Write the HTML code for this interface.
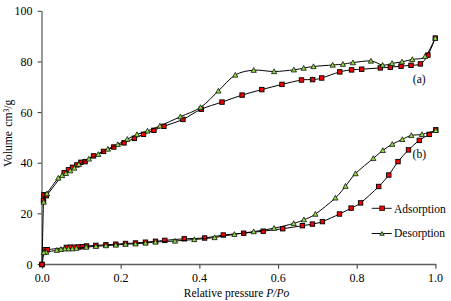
<!DOCTYPE html>
<html><head><meta charset="utf-8"><style>
html,body{margin:0;padding:0;background:#fff;width:451px;height:301px;overflow:hidden}
svg{display:block}
text{font-family:"Liberation Serif",serif;font-size:12px;fill:#000}
</style></head><body>
<svg width="451" height="301" viewBox="0 0 451 301">
<rect width="451" height="301" fill="#fff"/>
<line x1="42" y1="10.90" x2="42" y2="264.50" stroke="#878787" stroke-width="1.7"/>
<line x1="41.2" y1="264.50" x2="436.40" y2="264.50" stroke="#5e5e5e" stroke-width="1.3"/>
<line x1="37.6" y1="264.50" x2="41.5" y2="264.50" stroke="#333" stroke-width="1"/>
<line x1="37.6" y1="213.86" x2="41.5" y2="213.86" stroke="#333" stroke-width="1"/>
<line x1="37.6" y1="163.22" x2="41.5" y2="163.22" stroke="#333" stroke-width="1"/>
<line x1="37.6" y1="112.58" x2="41.5" y2="112.58" stroke="#333" stroke-width="1"/>
<line x1="37.6" y1="61.94" x2="41.5" y2="61.94" stroke="#333" stroke-width="1"/>
<line x1="37.6" y1="11.30" x2="41.5" y2="11.30" stroke="#333" stroke-width="1"/>
<line x1="42.50" y1="264.50" x2="42.50" y2="268.80" stroke="#444" stroke-width="1.1"/>
<line x1="121.18" y1="264.50" x2="121.18" y2="268.80" stroke="#444" stroke-width="1.1"/>
<line x1="199.86" y1="264.50" x2="199.86" y2="268.80" stroke="#444" stroke-width="1.1"/>
<line x1="278.54" y1="264.50" x2="278.54" y2="268.80" stroke="#444" stroke-width="1.1"/>
<line x1="357.22" y1="264.50" x2="357.22" y2="268.80" stroke="#444" stroke-width="1.1"/>
<line x1="435.90" y1="264.50" x2="435.90" y2="268.80" stroke="#444" stroke-width="1.1"/>
<text x="32.6" y="268.50" text-anchor="end">0</text>
<text x="32.6" y="217.86" text-anchor="end">20</text>
<text x="32.6" y="167.22" text-anchor="end">40</text>
<text x="32.6" y="116.58" text-anchor="end">60</text>
<text x="32.6" y="65.94" text-anchor="end">80</text>
<text x="32.6" y="15.30" text-anchor="end">100</text>
<text x="42.20" y="282.2" text-anchor="middle">0.0</text>
<text x="120.88" y="282.2" text-anchor="middle">0.2</text>
<text x="199.56" y="282.2" text-anchor="middle">0.4</text>
<text x="278.24" y="282.2" text-anchor="middle">0.6</text>
<text x="356.92" y="282.2" text-anchor="middle">0.8</text>
<text x="435.60" y="282.2" text-anchor="middle">1.0</text>
<text x="183.8" y="297" style="font-size:11.5px">Relative pressure <tspan font-style="italic">P/Po</tspan></text>
<text transform="translate(12.2,167.0) rotate(-90)" style="font-size:11.6px;word-spacing:1.5px">Volume cm<tspan dy="-3" style="font-size:7.5px">3</tspan><tspan dy="3">/g</tspan></text>
<text x="412.8" y="82.7" style="font-size:11.6px">(a)</text>
<text x="412.6" y="158.2" style="font-size:11.6px">(b)</text>
<path d="M42.00 264.50 C42.25 253.82 43.18 212.02 43.50 200.40 C43.82 188.78 43.42 195.60 43.90 194.80 C44.38 194.00 43.02 199.28 46.40 195.60 C49.78 191.92 60.52 177.00 64.20 172.70 C67.88 168.40 67.12 170.70 68.50 169.80 C69.88 168.90 71.10 168.12 72.50 167.30 C73.90 166.48 75.50 165.73 76.90 164.90 C78.30 164.07 79.53 162.85 80.90 162.30 C82.27 161.75 83.00 162.67 85.10 161.60 C87.20 160.53 90.43 157.60 93.50 155.90 C96.57 154.20 100.12 152.88 103.50 151.40 C106.88 149.92 110.38 148.42 113.80 147.00 C117.22 145.58 120.57 144.35 124.00 142.90 C127.43 141.45 131.15 139.73 134.40 138.30 C137.65 136.87 140.25 135.63 143.50 134.30 C146.75 132.97 150.50 131.63 153.90 130.30 C157.30 128.97 159.07 128.12 163.90 126.30 C168.73 124.48 176.68 122.25 182.90 119.40 C189.12 116.55 194.68 112.08 201.20 109.20 C207.72 106.32 215.18 104.45 222.00 102.10 C228.82 99.75 235.47 97.18 242.10 95.10 C248.73 93.02 255.15 91.38 261.80 89.60 C268.45 87.82 275.38 86.00 282.00 84.40 C288.62 82.80 296.40 80.80 301.50 80.00 C306.60 79.20 309.23 79.93 312.60 79.60 C315.97 79.27 317.17 79.28 321.70 78.00 C326.23 76.72 334.82 73.25 339.80 71.90 C344.78 70.55 347.95 70.35 351.60 69.90 C355.25 69.45 356.92 69.53 361.70 69.20 C366.48 68.87 375.53 68.23 380.30 67.90 C385.07 67.57 386.85 67.48 390.30 67.20 C393.75 66.92 397.55 66.52 401.00 66.20 C404.45 65.88 407.77 65.68 411.00 65.30 C414.23 64.92 417.58 65.60 420.40 63.90 C423.22 62.20 425.42 59.40 427.90 55.10 C430.38 50.80 434.07 40.93 435.30 38.10" fill="none" stroke="#000" stroke-width="1.0"/>
<g fill="#ff0000" stroke="#000" stroke-width="0.95"><rect x="39.80" y="262.30" width="4.4" height="4.4"/><rect x="41.30" y="198.20" width="4.4" height="4.4"/><rect x="41.70" y="192.60" width="4.4" height="4.4"/><rect x="44.20" y="193.40" width="4.4" height="4.4"/><rect x="62.00" y="170.50" width="4.4" height="4.4"/><rect x="66.30" y="167.60" width="4.4" height="4.4"/><rect x="70.30" y="165.10" width="4.4" height="4.4"/><rect x="74.70" y="162.70" width="4.4" height="4.4"/><rect x="78.70" y="160.10" width="4.4" height="4.4"/><rect x="82.90" y="159.40" width="4.4" height="4.4"/><rect x="91.30" y="153.70" width="4.4" height="4.4"/><rect x="101.30" y="149.20" width="4.4" height="4.4"/><rect x="111.60" y="144.80" width="4.4" height="4.4"/><rect x="121.80" y="140.70" width="4.4" height="4.4"/><rect x="132.20" y="136.10" width="4.4" height="4.4"/><rect x="141.30" y="132.10" width="4.4" height="4.4"/><rect x="151.70" y="128.10" width="4.4" height="4.4"/><rect x="161.70" y="124.10" width="4.4" height="4.4"/><rect x="180.70" y="117.20" width="4.4" height="4.4"/><rect x="199.00" y="107.00" width="4.4" height="4.4"/><rect x="219.80" y="99.90" width="4.4" height="4.4"/><rect x="239.90" y="92.90" width="4.4" height="4.4"/><rect x="259.60" y="87.40" width="4.4" height="4.4"/><rect x="279.80" y="82.20" width="4.4" height="4.4"/><rect x="299.30" y="77.80" width="4.4" height="4.4"/><rect x="310.40" y="77.40" width="4.4" height="4.4"/><rect x="319.50" y="75.80" width="4.4" height="4.4"/><rect x="337.60" y="69.70" width="4.4" height="4.4"/><rect x="349.40" y="67.70" width="4.4" height="4.4"/><rect x="359.50" y="67.00" width="4.4" height="4.4"/><rect x="378.10" y="65.70" width="4.4" height="4.4"/><rect x="388.10" y="65.00" width="4.4" height="4.4"/><rect x="398.80" y="64.00" width="4.4" height="4.4"/><rect x="408.80" y="63.10" width="4.4" height="4.4"/><rect x="418.20" y="61.70" width="4.4" height="4.4"/><rect x="425.70" y="52.90" width="4.4" height="4.4"/><rect x="433.10" y="35.90" width="4.4" height="4.4"/></g>
<path d="M435.30 38.10 C433.60 41.15 428.93 52.85 425.10 56.40 C421.27 59.95 416.15 58.50 412.30 59.40 C408.45 60.30 405.37 61.13 402.00 61.80 C398.63 62.47 395.33 62.85 392.10 63.40 C388.87 63.95 386.13 65.50 382.60 65.10 C379.07 64.70 375.85 61.42 370.90 61.00 C365.95 60.58 357.57 62.07 352.90 62.60 C348.23 63.13 346.27 63.80 342.90 64.20 C339.53 64.60 337.60 64.62 332.70 65.00 C327.80 65.38 318.33 65.98 313.50 66.50 C308.67 67.02 306.97 67.55 303.70 68.10 C300.43 68.65 298.83 69.23 293.90 69.80 C288.97 70.37 280.80 71.43 274.10 71.50 C267.40 71.57 260.17 69.62 253.70 70.20 C247.23 70.78 241.18 71.55 235.30 75.00 C229.42 78.45 224.18 85.50 218.40 90.90 C212.62 96.30 206.93 103.10 200.60 107.40 C194.27 111.70 187.18 113.62 180.40 116.70 C173.62 119.78 165.38 123.53 159.90 125.90 C154.42 128.27 151.32 129.47 147.50 130.90 C143.68 132.33 140.37 133.12 137.00 134.50 C133.63 135.88 130.50 137.55 127.30 139.20 C124.10 140.85 121.03 142.77 117.80 144.40 C114.57 146.03 111.15 147.35 107.90 149.00 C104.65 150.65 101.47 152.65 98.30 154.30 C95.13 155.95 92.13 157.23 88.90 158.90 C85.67 160.57 81.33 162.78 78.90 164.30 C76.47 165.82 75.73 166.93 74.30 168.00 C72.87 169.07 71.70 169.82 70.30 170.70 C68.90 171.58 67.25 172.50 65.90 173.30 C64.55 174.10 63.47 174.72 62.20 175.50 C60.93 176.28 60.83 174.98 58.30 178.00 C55.77 181.02 49.43 189.60 47.00 193.60 C44.57 197.60 44.25 200.60 43.70 202.00" fill="none" stroke="#000" stroke-width="1.0"/>
<g fill="#8fdc40" stroke="#111" stroke-width="0.8"><path d="M435.30 35.46L437.90 40.26L432.70 40.26Z"/><path d="M425.10 53.76L427.70 58.56L422.50 58.56Z"/><path d="M412.30 56.76L414.90 61.56L409.70 61.56Z"/><path d="M402.00 59.16L404.60 63.96L399.40 63.96Z"/><path d="M392.10 60.76L394.70 65.56L389.50 65.56Z"/><path d="M382.60 62.46L385.20 67.26L380.00 67.26Z"/><path d="M370.90 58.36L373.50 63.16L368.30 63.16Z"/><path d="M352.90 59.96L355.50 64.76L350.30 64.76Z"/><path d="M342.90 61.56L345.50 66.36L340.30 66.36Z"/><path d="M332.70 62.36L335.30 67.16L330.10 67.16Z"/><path d="M313.50 63.86L316.10 68.66L310.90 68.66Z"/><path d="M303.70 65.46L306.30 70.26L301.10 70.26Z"/><path d="M293.90 67.16L296.50 71.96L291.30 71.96Z"/><path d="M274.10 68.86L276.70 73.66L271.50 73.66Z"/><path d="M253.70 67.56L256.30 72.36L251.10 72.36Z"/><path d="M235.30 72.36L237.90 77.16L232.70 77.16Z"/><path d="M218.40 88.26L221.00 93.06L215.80 93.06Z"/><path d="M200.60 104.76L203.20 109.56L198.00 109.56Z"/><path d="M180.40 114.06L183.00 118.86L177.80 118.86Z"/><path d="M159.90 123.26L162.50 128.06L157.30 128.06Z"/><path d="M147.50 128.26L150.10 133.06L144.90 133.06Z"/><path d="M137.00 131.86L139.60 136.66L134.40 136.66Z"/><path d="M127.30 136.56L129.90 141.36L124.70 141.36Z"/><path d="M117.80 141.76L120.40 146.56L115.20 146.56Z"/><path d="M107.90 146.36L110.50 151.16L105.30 151.16Z"/><path d="M98.30 151.66L100.90 156.46L95.70 156.46Z"/><path d="M88.90 156.26L91.50 161.06L86.30 161.06Z"/><path d="M78.90 161.66L81.50 166.46L76.30 166.46Z"/><path d="M74.30 165.36L76.90 170.16L71.70 170.16Z"/><path d="M70.30 168.06L72.90 172.86L67.70 172.86Z"/><path d="M65.90 170.66L68.50 175.46L63.30 175.46Z"/><path d="M62.20 172.86L64.80 177.66L59.60 177.66Z"/><path d="M58.30 175.36L60.90 180.16L55.70 180.16Z"/><path d="M47.00 190.96L49.60 195.76L44.40 195.76Z"/><path d="M43.70 199.36L46.30 204.16L41.10 204.16Z"/></g>
<path d="M42.00 264.50 C42.43 262.05 43.73 252.27 44.60 249.80 C45.47 247.33 43.57 250.10 47.20 249.70 C50.83 249.30 62.55 247.82 66.40 247.40 C70.25 246.98 69.00 247.23 70.30 247.20 C71.60 247.17 72.85 247.23 74.20 247.20 C75.55 247.17 77.05 247.08 78.40 247.00 C79.75 246.92 80.93 246.87 82.30 246.70 C83.67 246.53 84.33 246.22 86.60 246.00 C88.87 245.78 92.68 245.60 95.90 245.40 C99.12 245.20 102.58 245.00 105.90 244.80 C109.22 244.60 112.53 244.42 115.80 244.20 C119.07 243.98 122.22 243.70 125.50 243.50 C128.78 243.30 132.17 243.22 135.50 243.00 C138.83 242.78 142.17 242.48 145.50 242.20 C148.83 241.92 152.28 241.60 155.50 241.30 C158.72 241.00 160.00 240.82 164.80 240.40 C169.60 239.98 177.67 239.20 184.30 238.80 C190.93 238.40 198.10 238.63 204.60 238.00 C211.10 237.37 216.78 235.80 223.30 235.00 C229.82 234.20 237.05 233.83 243.70 233.20 C250.35 232.57 256.70 231.95 263.20 231.20 C269.70 230.45 276.17 229.62 282.70 228.70 C289.23 227.78 297.45 226.47 302.40 225.70 C307.35 224.93 309.07 224.78 312.40 224.10 C315.73 223.42 317.88 223.28 322.40 221.60 C326.92 219.92 334.72 216.25 339.50 214.00 C344.28 211.75 347.58 209.95 351.10 208.10 C354.62 206.25 356.00 206.50 360.60 202.90 C365.20 199.30 374.00 191.15 378.70 186.50 C383.40 181.85 385.58 179.15 388.80 175.00 C392.02 170.85 394.72 165.78 398.00 161.60 C401.28 157.42 404.95 153.43 408.50 149.90 C412.05 146.37 415.85 142.98 419.30 140.40 C422.75 137.82 426.45 136.17 429.20 134.40 C431.95 132.63 434.70 130.57 435.80 129.80" fill="none" stroke="#000" stroke-width="1.0"/>
<g fill="#ff0000" stroke="#000" stroke-width="0.95"><rect x="39.80" y="262.30" width="4.4" height="4.4"/><rect x="42.40" y="247.60" width="4.4" height="4.4"/><rect x="45.00" y="247.50" width="4.4" height="4.4"/><rect x="64.20" y="245.20" width="4.4" height="4.4"/><rect x="68.10" y="245.00" width="4.4" height="4.4"/><rect x="72.00" y="245.00" width="4.4" height="4.4"/><rect x="76.20" y="244.80" width="4.4" height="4.4"/><rect x="80.10" y="244.50" width="4.4" height="4.4"/><rect x="84.40" y="243.80" width="4.4" height="4.4"/><rect x="93.70" y="243.20" width="4.4" height="4.4"/><rect x="103.70" y="242.60" width="4.4" height="4.4"/><rect x="113.60" y="242.00" width="4.4" height="4.4"/><rect x="123.30" y="241.30" width="4.4" height="4.4"/><rect x="133.30" y="240.80" width="4.4" height="4.4"/><rect x="143.30" y="240.00" width="4.4" height="4.4"/><rect x="153.30" y="239.10" width="4.4" height="4.4"/><rect x="162.60" y="238.20" width="4.4" height="4.4"/><rect x="182.10" y="236.60" width="4.4" height="4.4"/><rect x="202.40" y="235.80" width="4.4" height="4.4"/><rect x="221.10" y="232.80" width="4.4" height="4.4"/><rect x="241.50" y="231.00" width="4.4" height="4.4"/><rect x="261.00" y="229.00" width="4.4" height="4.4"/><rect x="280.50" y="226.50" width="4.4" height="4.4"/><rect x="300.20" y="223.50" width="4.4" height="4.4"/><rect x="310.20" y="221.90" width="4.4" height="4.4"/><rect x="320.20" y="219.40" width="4.4" height="4.4"/><rect x="337.30" y="211.80" width="4.4" height="4.4"/><rect x="348.90" y="205.90" width="4.4" height="4.4"/><rect x="358.40" y="200.70" width="4.4" height="4.4"/><rect x="376.50" y="184.30" width="4.4" height="4.4"/><rect x="386.60" y="172.80" width="4.4" height="4.4"/><rect x="395.80" y="159.40" width="4.4" height="4.4"/><rect x="406.30" y="147.70" width="4.4" height="4.4"/><rect x="417.10" y="138.20" width="4.4" height="4.4"/><rect x="427.00" y="132.20" width="4.4" height="4.4"/><rect x="433.60" y="127.60" width="4.4" height="4.4"/></g>
<path d="M435.80 130.40 C433.48 131.07 425.98 133.57 421.90 134.40 C417.82 135.23 414.57 134.57 411.30 135.40 C408.03 136.23 405.47 137.93 402.30 139.40 C399.13 140.87 395.55 142.37 392.30 144.20 C389.05 146.03 385.97 148.03 382.80 150.40 C379.63 152.77 377.85 154.53 373.30 158.40 C368.75 162.27 360.13 168.97 355.50 173.60 C350.87 178.23 348.85 182.15 345.50 186.20 C342.15 190.25 340.42 193.25 335.40 197.90 C330.38 202.55 320.65 210.47 315.40 214.10 C310.15 217.73 307.52 218.15 303.90 219.70 C300.28 221.25 298.67 221.98 293.70 223.40 C288.73 224.82 280.77 226.83 274.10 228.20 C267.43 229.57 260.32 230.58 253.70 231.60 C247.08 232.62 240.92 233.32 234.40 234.30 C227.88 235.28 221.28 236.63 214.60 237.50 C207.92 238.37 200.90 238.92 194.30 239.50 C187.70 240.08 181.47 240.58 175.00 241.00 C168.53 241.42 160.42 241.67 155.50 242.00 C150.58 242.33 148.83 242.70 145.50 243.00 C142.17 243.30 138.83 243.60 135.50 243.80 C132.17 244.00 128.78 244.00 125.50 244.20 C122.22 244.40 119.07 244.77 115.80 245.00 C112.53 245.23 109.22 245.38 105.90 245.60 C102.58 245.82 99.17 246.05 95.90 246.30 C92.63 246.55 89.57 246.78 86.30 247.10 C83.03 247.42 78.62 247.93 76.30 248.20 C73.98 248.47 73.72 248.62 72.40 248.70 C71.08 248.78 69.67 248.68 68.40 248.70 C67.13 248.72 66.05 248.70 64.80 248.80 C63.55 248.90 62.23 249.07 60.90 249.30 C59.57 249.53 59.25 249.73 56.80 250.20 C54.35 250.67 48.37 251.72 46.20 252.10 C44.03 252.48 44.20 252.43 43.80 252.50" fill="none" stroke="#000" stroke-width="1.0"/>
<g fill="#8fdc40" stroke="#111" stroke-width="0.8"><path d="M435.80 127.76L438.40 132.56L433.20 132.56Z"/><path d="M421.90 131.76L424.50 136.56L419.30 136.56Z"/><path d="M411.30 132.76L413.90 137.56L408.70 137.56Z"/><path d="M402.30 136.76L404.90 141.56L399.70 141.56Z"/><path d="M392.30 141.56L394.90 146.36L389.70 146.36Z"/><path d="M382.80 147.76L385.40 152.56L380.20 152.56Z"/><path d="M373.30 155.76L375.90 160.56L370.70 160.56Z"/><path d="M355.50 170.96L358.10 175.76L352.90 175.76Z"/><path d="M345.50 183.56L348.10 188.36L342.90 188.36Z"/><path d="M335.40 195.26L338.00 200.06L332.80 200.06Z"/><path d="M315.40 211.46L318.00 216.26L312.80 216.26Z"/><path d="M303.90 217.06L306.50 221.86L301.30 221.86Z"/><path d="M293.70 220.76L296.30 225.56L291.10 225.56Z"/><path d="M274.10 225.56L276.70 230.36L271.50 230.36Z"/><path d="M253.70 228.96L256.30 233.76L251.10 233.76Z"/><path d="M234.40 231.66L237.00 236.46L231.80 236.46Z"/><path d="M214.60 234.86L217.20 239.66L212.00 239.66Z"/><path d="M194.30 236.86L196.90 241.66L191.70 241.66Z"/><path d="M175.00 238.36L177.60 243.16L172.40 243.16Z"/><path d="M155.50 239.36L158.10 244.16L152.90 244.16Z"/><path d="M145.50 240.36L148.10 245.16L142.90 245.16Z"/><path d="M135.50 241.16L138.10 245.96L132.90 245.96Z"/><path d="M125.50 241.56L128.10 246.36L122.90 246.36Z"/><path d="M115.80 242.36L118.40 247.16L113.20 247.16Z"/><path d="M105.90 242.96L108.50 247.76L103.30 247.76Z"/><path d="M95.90 243.66L98.50 248.46L93.30 248.46Z"/><path d="M86.30 244.46L88.90 249.26L83.70 249.26Z"/><path d="M76.30 245.56L78.90 250.36L73.70 250.36Z"/><path d="M72.40 246.06L75.00 250.86L69.80 250.86Z"/><path d="M68.40 246.06L71.00 250.86L65.80 250.86Z"/><path d="M64.80 246.16L67.40 250.96L62.20 250.96Z"/><path d="M60.90 246.66L63.50 251.46L58.30 251.46Z"/><path d="M56.80 247.56L59.40 252.36L54.20 252.36Z"/><path d="M46.20 249.46L48.80 254.26L43.60 254.26Z"/><path d="M43.80 249.86L46.40 254.66L41.20 254.66Z"/></g>
<g stroke="#111" stroke-width="1"><line x1="371.7" y1="208.3" x2="391.7" y2="208.3"/><line x1="371.7" y1="233.5" x2="391.7" y2="233.5"/></g>
<rect x="379.8" y="206" width="4.8" height="4.6" fill="#ff0000" stroke="#111" stroke-width="0.8"/>
<path d="M382 231.6L384.2 235.3L379.8 235.3Z" fill="#8fdc40" stroke="#111" stroke-width="0.8"/>
<text x="394" y="213" style="font-size:11.5px">Adsorption</text>
<text x="394" y="236.6" style="font-size:11.5px">Desorption</text>
</svg>
</body></html>
